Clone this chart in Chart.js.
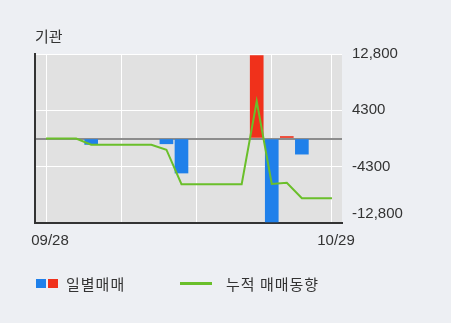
<!DOCTYPE html>
<html>
<head>
<meta charset="utf-8">
<script src="https://cdn.jsdelivr.net/npm/chart.js@4"></script>
<style>
  html, body { margin: 0; padding: 0; background: #edeff3; }
  #wrap { position: relative; width: 451px; height: 323px; overflow: hidden; }
  #title { position: absolute; left: 35px; top: 26px; font: 15px "Noto Sans CJK KR", sans-serif; color: #333; line-height: 20px; }
  .legend { position: absolute; top: 274px; font: 15px "Noto Sans CJK KR", sans-serif; color: #333; line-height: 20px; letter-spacing: 1px; }
  .sq { position: absolute; width: 10px; height: 9px; }
</style>
</head>
<body>
<div id="wrap">
  <canvas id="chart" width="451" height="323"></canvas>
  <div id="title">기관</div>
  <div class="sq" style="left:36px;top:279px;background:#1f80ea"></div>
  <div class="sq" style="left:48px;top:279px;background:#f0311b"></div>
  <div class="legend" style="left:66px">일별매매</div>
  <div style="position:absolute;left:180px;top:282px;width:32px;height:3px;background:#6abf2a"></div>
  <div class="legend" style="left:226px">누적 매매동향</div>
</div>
<script>
// trading days 09/28 - 10/29
const dates = ["09/28", "10/01", "10/02", "10/04", "10/05", "10/08", "10/10", "10/11", "10/12", "10/15",
  "10/16", "10/17", "10/18", "10/19", "10/22", "10/23", "10/24", "10/25", "10/26", "10/29"];
// daily net buying (bars)
const daily = [0, 0, 0, -900, 0, 0, 0, 0, -800, -5230, 0, 0, 0, 0, 12560, -12620, 300, -2370, 0, 0];
// cumulative (line)
const cumulative = [0, 0, 0, -950, -950, -950, -950, -950, -1700, -6930, -6930, -6930, -6930, -6930,
  5630, -6900, -6720, -9060, -9060, -9060];
const yTicks = [-12800, -4300, 0, 4300, 12800];
// bottom label sits a bit above its line, like the original
const yLabels = [["-12,800", ""], "-4300", "", "4300", "12,800"];
const xGridIdx = [0, 5, 10, 15, 19];
const xLabelIdx = [0, 19];

const RED = "#f0311b";
const BLUE = "#1f80ea";
const GREEN = "#6abf2a";

const plotBg = {
  id: "plotBg",
  beforeDraw(chart) {
    const { ctx, chartArea: a } = chart;
    ctx.save();
    ctx.fillStyle = "#e1e1e1";
    ctx.fillRect(a.left, a.top, a.right - a.left, a.bottom - a.top);
    ctx.restore();
  },
};

const ctx = document.getElementById("chart").getContext("2d");
new Chart(ctx, {
  data: {
    datasets: [
      {
        type: "line",
        data: cumulative.map((v, i) => ({ x: i, y: v })),
        borderColor: GREEN,
        borderWidth: 2,
        pointRadius: 0,
        tension: 0,
        order: 0,
      },
      {
        type: "bar",
        // no bar on days with zero
        data: daily.map((v, i) => ({ x: i, y: v === 0 ? null : v })),
        backgroundColor: daily.map((v) => (v > 0 ? RED : BLUE)),
        barThickness: 13,
        order: 1,
      },
    ],
  },
  options: {
    responsive: false,
    animation: false,
    layout: { padding: { left: 35, top: 54, right: 0, bottom: 0 } },
    plugins: { legend: { display: false }, tooltip: { enabled: false } },
    scales: {
      x: {
        type: "linear",
        offset: false,
        min: -0.733,
        max: 19.667,
        afterBuildTicks: (s) => { s.ticks = xGridIdx.map((v) => ({ value: v })); },
        afterFit: (s) => { s.height = 100; },
        grid: { offset: false, color: "#ffffff", lineWidth: 1, drawTicks: false },
        border: { display: true, color: "#333333", width: 2 },
        ticks: {
          padding: 9,
          labelOffset: 4,
          maxRotation: 0,
          autoSkip: false,
          color: "#333",
          font: { family: "Liberation Sans", size: 15 },
          callback: (v) => (xLabelIdx.includes(v) ? dates[v] : ""),
        },
      },
      y: {
        position: "right",
        min: -12800,
        max: 12800,
        afterBuildTicks: (s) => { s.ticks = yTicks.map((v) => ({ value: v })); },
        afterFit: (s) => { s.width = 109; },
        grid: {
          drawTicks: false,
          color: (c) => (c.tick && c.tick.value === 0 ? "#8c8c8c" : "#ffffff"),
          lineWidth: (c) => (c.tick && c.tick.value === 0 ? 2 : 1),
        },
        border: { display: false },
        ticks: {
          padding: 10,
          color: "#333",
          font: { family: "Liberation Sans", size: 15 },
          callback: (v) => yLabels[yTicks.indexOf(v)],
        },
      },
      yL: {
        position: "left",
        min: -12800,
        max: 12800,
        afterFit: (s) => { s.width = 0; },
        grid: { display: false },
        ticks: { display: false },
        border: { display: true, color: "#333333", width: 2 },
      },
    },
  },
  plugins: [plotBg],
});
</script>
</body>
</html>
